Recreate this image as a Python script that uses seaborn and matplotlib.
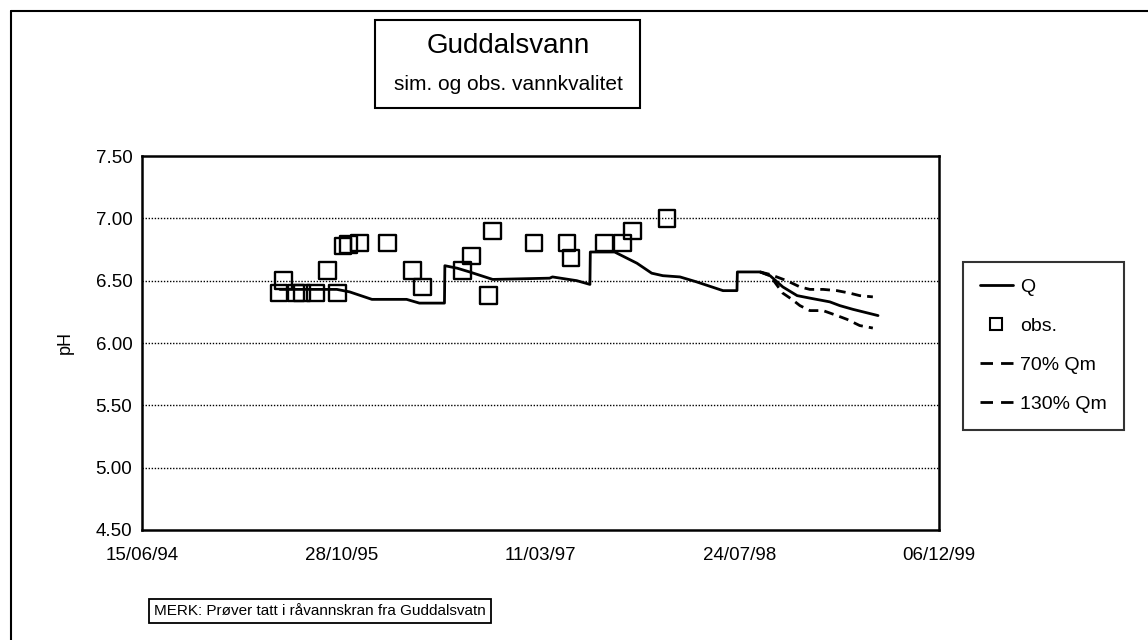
import pandas as pd
import matplotlib
matplotlib.use("Agg")
import matplotlib.pyplot as plt
import matplotlib.dates as mdates
from matplotlib.lines import Line2D
from matplotlib.patches import Rectangle
import seaborn as sns

# observed pH
obs_dates = ["1995-05-25", "1995-06-05", "1995-07-06", "1995-07-22", "1995-08-24",
             "1995-09-24", "1995-10-19", "1995-11-02", "1995-11-15", "1995-12-13",
             "1996-02-21", "1996-04-24", "1996-05-19", "1996-08-27", "1996-09-19",
             "1996-11-01", "1996-11-11", "1997-02-22", "1997-05-16", "1997-05-26",
             "1997-08-19", "1997-10-03", "1997-10-28", "1998-01-22"]
obs_ph = [6.40, 6.50, 6.40, 6.40, 6.40,
          6.58, 6.40, 6.78, 6.79, 6.80,
          6.80, 6.58, 6.45, 6.58, 6.70,
          6.38, 6.90, 6.80, 6.80, 6.68,
          6.80, 6.80, 6.90, 7.00]

# simulated, Q
q_dates = ["1995-05-27", "1995-10-17", "1995-11-18", "1996-01-13", "1996-04-09",
           "1996-05-11", "1996-07-13", "1996-07-14", "1996-08-14", "1996-09-14",
           "1996-11-11", "1997-04-03", "1997-04-10", "1997-06-10", "1997-07-13",
           "1997-07-14", "1997-09-13", "1997-11-08", "1997-12-15", "1998-01-12",
           "1998-02-24", "1998-04-07", "1998-06-12", "1998-07-17", "1998-07-18",
           "1998-09-13", "1998-10-08", "1998-11-09", "1998-12-15", "1999-01-16",
           "1999-03-07", "1999-04-01", "1999-05-04", "1999-07-06"]
q_ph = [6.43, 6.43, 6.41, 6.35, 6.35,
        6.32, 6.32, 6.62, 6.60, 6.57,
        6.51, 6.52, 6.53, 6.50, 6.47,
        6.73, 6.73, 6.64, 6.56, 6.54,
        6.53, 6.49, 6.42, 6.42, 6.57,
        6.57, 6.54, 6.45, 6.38, 6.36,
        6.33, 6.30, 6.27, 6.22]

# 70% Qm
qm70_dates = ["1998-09-13", "1998-10-08", "1998-11-19", "1998-12-22", "1999-01-16",
              "1999-02-18", "1999-03-25", "1999-04-26", "1999-05-21", "1999-06-23"]
qm70_ph = [6.57, 6.55, 6.50, 6.45, 6.43, 6.43, 6.42, 6.40, 6.38, 6.37]

# 130% Qm
qm130_dates = ["1998-09-13", "1998-10-08", "1998-11-09", "1998-12-02", "1998-12-22",
               "1999-01-16", "1999-02-18", "1999-03-25", "1999-04-19", "1999-05-21",
               "1999-06-23"]
qm130_ph = [6.57, 6.54, 6.40, 6.35, 6.30, 6.26, 6.26, 6.22, 6.19, 6.14, 6.12]

x_ticks = ["1994-06-15", "1995-10-28", "1997-03-11", "1998-07-24", "1999-12-06"]
y_ticks = [4.50, 5.00, 5.50, 6.00, 6.50, 7.00, 7.50]
grid_levels = [5.00, 5.50, 6.00, 6.50, 7.00]

obs = pd.DataFrame({"date": pd.to_datetime(obs_dates), "pH": obs_ph})
q = pd.DataFrame({"date": pd.to_datetime(q_dates), "pH": q_ph})
q70 = pd.DataFrame({"date": pd.to_datetime(qm70_dates), "pH": qm70_ph})
q130 = pd.DataFrame({"date": pd.to_datetime(qm130_dates), "pH": qm130_ph})

sns.set_theme(style="white")
plt.rcParams['font.family'] = ['Liberation Sans', 'DejaVu Sans']
plt.rcParams['text.color'] = 'black'
plt.rcParams['axes.labelcolor'] = 'black'

W, H = 1148, 640
fig = plt.figure(figsize=(W / 100, H / 100), dpi=100)
fig.patch.set_facecolor("white")
ax = fig.add_axes([142 / W, 1 - 530 / H, (939 - 142) / W, (530 - 156) / H])

for lvl in grid_levels:
    ax.axhline(lvl, color="black", lw=1.0, ls=(0, (1, 1.2)), zorder=1)

dash = (3.5, 2.2)
lw = 2.0
sns.lineplot(data=q, x="date", y="pH", ax=ax, color="black", lw=lw,
             estimator=None, sort=False, zorder=3)
sns.lineplot(data=q70, x="date", y="pH", ax=ax, color="black", lw=lw,
             estimator=None, sort=False, zorder=3).lines[-1].set_dashes(dash)
sns.lineplot(data=q130, x="date", y="pH", ax=ax, color="black", lw=lw,
             estimator=None, sort=False, zorder=3).lines[-1].set_dashes(dash)
sns.scatterplot(data=obs, x="date", y="pH", ax=ax, marker="s", s=140,
                facecolor="none", edgecolor="black", linewidth=1.7, zorder=4)

ax.set_xlim(pd.Timestamp(x_ticks[0]), pd.Timestamp(x_ticks[-1]))
ax.set_ylim(y_ticks[0], y_ticks[-1])
ax.set_xticks(pd.to_datetime(x_ticks))
ax.xaxis.set_major_formatter(mdates.DateFormatter("%d/%m/%y"))
ax.set_yticks(y_ticks)
ax.set_yticklabels([f"{v:.2f}" for v in y_ticks])
ax.tick_params(axis="both", direction="in", length=6, width=1.5, colors="black",
               labelsize=13.5, pad=7)
ax.tick_params(axis="x", labelsize=13.5, pad=12)
ax.set_xlabel("")
ax.set_ylabel("pH", fontsize=13, labelpad=16)
for sp in ax.spines.values():
    sp.set_visible(True)
    sp.set_color("black")
    sp.set_linewidth(1.8)
ax.set_facecolor("white")

# legend
leg_dash = (4.5, 2.9)
handles = [Line2D([], [], color="black", lw=lw),
           Line2D([], [], color="black", marker="s", ls="none", markersize=9,
                  markerfacecolor="none", markeredgewidth=1.5),
           Line2D([], [], color="black", lw=lw, dashes=leg_dash),
           Line2D([], [], color="black", lw=lw, dashes=leg_dash)]
labels = ["Q", "obs.", "70% Qm", "130% Qm"]
leg = fig.legend(handles, labels, loc="upper left",
                 bbox_to_anchor=(963 / W, 1 - 262 / H), fontsize=14,
                 frameon=True, fancybox=False, edgecolor="black",
                 handlelength=1.7, handletextpad=0.4, labelspacing=1.1,
                 borderpad=0.85, borderaxespad=0)
leg.get_frame().set_linewidth(1.5)

# title box
fig.add_artist(Rectangle((375 / W, 1 - 108 / H), 265 / W, 88 / H,
                         transform=fig.transFigure, fill=False,
                         edgecolor="black", lw=1.5))
fig.text(508 / W, 1 - 46 / H, "Guddalsvann", ha="center", va="center", fontsize=20)
fig.text(508 / W, 1 - 84 / H, "sim. og obs. vannkvalitet", ha="center",
         va="center", fontsize=15)

# note
fig.text(154 / W, 1 - 611 / H, "MERK: Prøver tatt i råvannskran fra Guddalsvatn",
         ha="left", va="center", fontsize=11,
         bbox=dict(boxstyle="square,pad=0.35", facecolor="white",
                   edgecolor="black", lw=1.3))

# outer frame
fig.add_artist(Line2D([11 / W, 11 / W], [0, 1 - 11 / H], color="black", lw=1.5,
                      transform=fig.transFigure))
fig.add_artist(Line2D([11 / W, 1], [1 - 11 / H, 1 - 11 / H], color="black", lw=1.5,
                      transform=fig.transFigure))

fig.savefig("out.png", dpi=100)
